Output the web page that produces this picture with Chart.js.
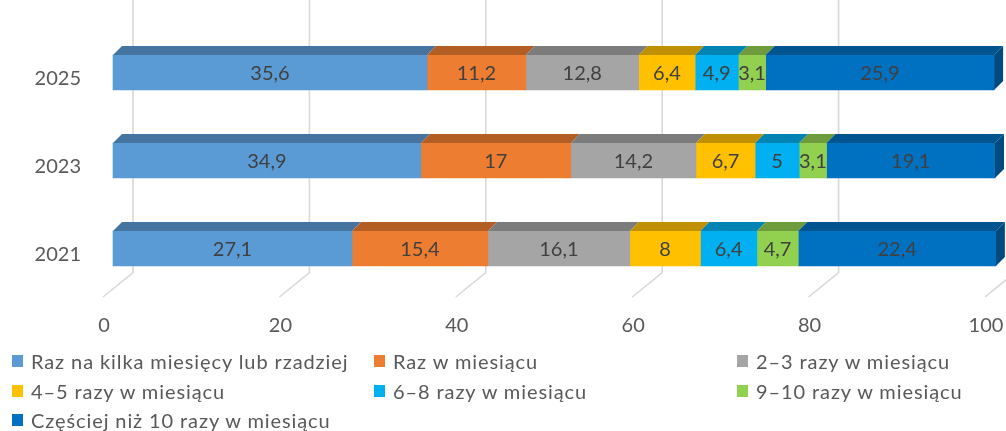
<!DOCTYPE html>
<html>
<head>
<meta charset="utf-8">
<script src="https://cdn.jsdelivr.net/npm/chart.js@4"></script>
<style>
  html, body { margin: 0; padding: 0; background: #fff; }
  #wrap { position: relative; width: 1006px; height: 431px; overflow: hidden; }
  #chart { position: absolute; left: 0; top: 0; }
  .leg { position: absolute; font: 20px Lato, sans-serif; letter-spacing: 0.9px; color: #595959; white-space: nowrap; line-height: 24px; }
  .leg i { position: absolute; left: 0; top: 6px; width: 11px; height: 12px; }
  .leg span { position: absolute; left: 19px; top: 0; }
</style>
</head>
<body>
<div id="wrap">
  <canvas id="chart" width="1006" height="431"></canvas>
  <div id="legend"></div>
</div>
<script>
// ---- Data ----
const years = ["2025", "2023", "2021"];
const seriesNames = [
  "Raz na kilka miesięcy lub rzadziej",
  "Raz w miesiącu",
  "2–3 razy w miesiącu",
  "4–5 razy w miesiącu",
  "6–8 razy w miesiącu",
  "9–10 razy w miesiącu",
  "Częściej niż 10 razy w miesiącu"
];
const rareValues = [35.6, 34.9, 27.1];
const monthlyValues = [11.2, 17, 15.4];
const twoThreeValues = [12.8, 14.2, 16.1];
const fourFiveValues = [6.4, 6.7, 8];
const sixEightValues = [4.9, 5, 6.4];
const nineTenValues = [3.1, 3.1, 4.7];
const moreThanTenValues = [25.9, 19.1, 22.4];
const xTicks = [0, 20, 40, 60, 80, 100];

const colors = ["#5B9BD5", "#ED7D31", "#A5A5A5", "#FFC000", "#00B0F0", "#92D050", "#0070C0"];
const topColors = ["#44749F", "#B25E25", "#7C7C7C", "#BF9000", "#0084B4", "#6E9C3C", "#005490"];
const sideColors = ["#3A6488", "#985020", "#6A6A6A", "#A37B00", "#00719A", "#5E8633", "#004A80"];

// ---- 3D look ----
const DEPTH_X = 9, DEPTH_Y = 9;       // bar depth
const WALL_X = 20, WALL_Y = 20;       // back wall offset from chart bottom
const FLOOR_X = -10, FLOOR_Y = 4.5;   // floor front edge offset

const allValues = [rareValues, monthlyValues, twoThreeValues, fourFiveValues,
  sixEightValues, nineTenValues, moreThanTenValues];

const grid3d = {
  id: "grid3d",
  beforeDatasetsDraw(chart) {
    const c = chart.ctx, xs = chart.scales.x, b = chart.chartArea.bottom;
    c.save();
    c.strokeStyle = "#D9D9D9";
    c.lineWidth = 1.6;
    xTicks.forEach(v => {
      const px = xs.getPixelForValue(v);
      c.beginPath();
      c.moveTo(px + WALL_X, 0);
      c.lineTo(px + WALL_X, b - WALL_Y);
      c.lineTo(px + FLOOR_X, b + FLOOR_Y);
      c.stroke();
    });
    c.restore();
  }
};

const bars3d = {
  id: "bars3d",
  afterDatasetsDraw(chart) {
    const c = chart.ctx;
    const n = chart.data.datasets.length;
    c.save();
    chart.data.datasets.forEach((ds, i) => {
      chart.getDatasetMeta(i).data.forEach(el => {
        const { x, base, y, height } = el.getProps(["x", "base", "y", "height"], true);
        const top = y - height / 2, bot = y + height / 2;
        c.fillStyle = topColors[i];
        c.beginPath();
        c.moveTo(base, top);
        c.lineTo(base + DEPTH_X, top - DEPTH_Y);
        c.lineTo(x + DEPTH_X, top - DEPTH_Y);
        c.lineTo(x, top);
        c.closePath();
        c.fill();
        if (i === n - 1) {
          c.fillStyle = sideColors[i];
          c.beginPath();
          c.moveTo(x, top);
          c.lineTo(x + DEPTH_X, top - DEPTH_Y);
          c.lineTo(x + DEPTH_X, bot - DEPTH_Y);
          c.lineTo(x, bot);
          c.closePath();
          c.fill();
        }
      });
    });
    // value labels
    c.font = "20px Lato, sans-serif";
    c.fillStyle = "#404040";
    c.textAlign = "center";
    c.textBaseline = "middle";
    chart.data.datasets.forEach((ds, i) => {
      chart.getDatasetMeta(i).data.forEach((el, j) => {
        const { x, base, y } = el.getProps(["x", "base", "y"], true);
        c.fillText(String(ds.data[j]).replace(".", ","), (x + base) / 2, y + 1);
      });
    });
    c.restore();
  }
};

new Chart(document.getElementById("chart"), {
  type: "bar",
  data: {
    labels: years,
    datasets: allValues.map((vals, i) => ({
      label: seriesNames[i],
      data: vals,
      backgroundColor: colors[i],
      borderWidth: 0,
      barThickness: 35,
      clip: false
    }))
  },
  options: {
    indexAxis: "y",
    responsive: false,
    animation: false,
    layout: { padding: { left: 0, top: 28.5, right: 11, bottom: 98.5 } },
    plugins: { legend: { display: false }, tooltip: { enabled: false } },
    scales: {
      x: {
        stacked: true,
        min: 0,
        max: 100,
        afterBuildTicks: s => { s.ticks = xTicks.map(v => ({ value: v })); },
        afterFit: s => { s.height = 40; s.paddingLeft = 0; s.paddingRight = 0; },
        grid: { display: false, drawTicks: false },
        border: { display: false },
        ticks: { color: "#595959", font: { family: "Lato", size: 20 }, padding: 21, labelOffset: -9, maxRotation: 0 }
      },
      y: {
        stacked: true,
        afterFit: s => { s.width = 113; s.paddingTop = 0; s.paddingBottom = 0; },
        grid: { display: false, drawTicks: false },
        border: { display: false },
        ticks: { color: "#595959", font: { family: "Lato", size: 20 }, padding: 32, labelOffset: 6.5 }
      }
    }
  },
  plugins: [grid3d, bars3d]
});

// ---- Legend (Excel-like columns) ----
const legendCols = [12, 374, 737];
const legendRows = [349, 379, 408];
const legendEl = document.getElementById("legend");
seriesNames.forEach((name, i) => {
  const d = document.createElement("div");
  d.className = "leg";
  d.style.left = legendCols[i % 3] + "px";
  d.style.top = legendRows[Math.floor(i / 3)] + "px";
  d.innerHTML = `<i style="background:${colors[i]}"></i><span>${name}</span>`;
  legendEl.appendChild(d);
});
</script>
</body>
</html>
